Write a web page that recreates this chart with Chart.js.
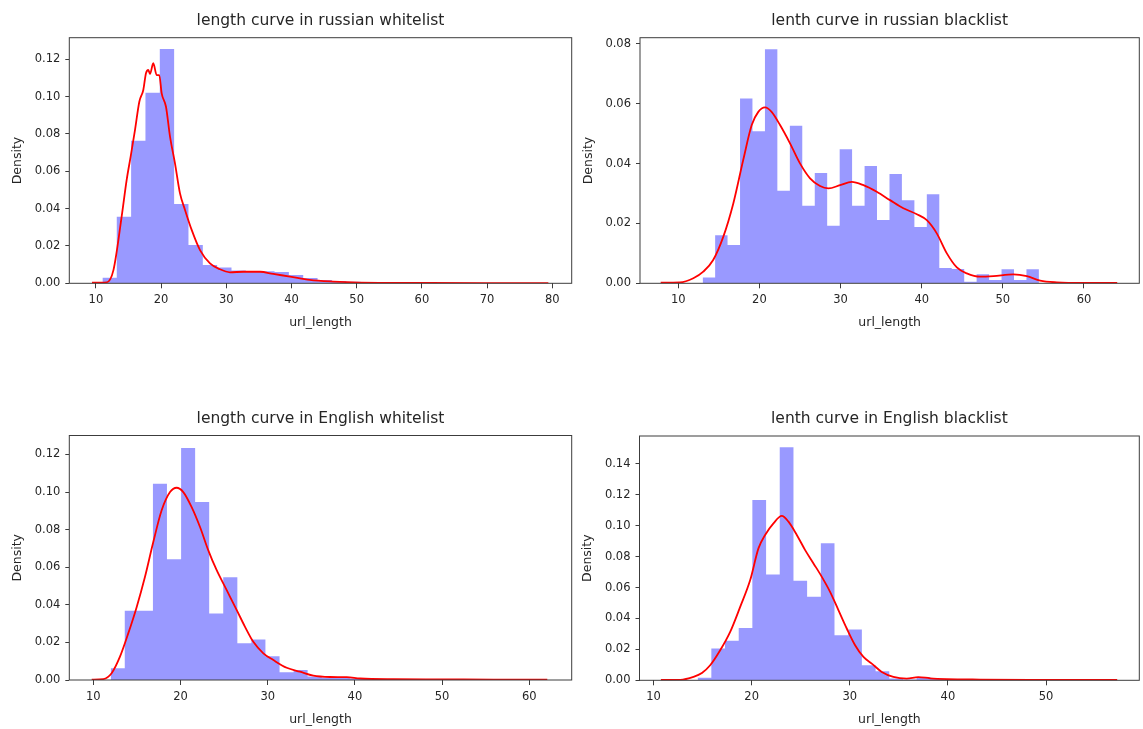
<!DOCTYPE html>
<html><head><meta charset="utf-8">
<script src="https://cdn.jsdelivr.net/npm/chart.js@4.4.1/dist/chart.umd.min.js"></script>
<style>
html,body{margin:0;padding:0;background:#fff;}
body{width:1143px;height:729px;position:relative;overflow:hidden;}
canvas{position:absolute;}
</style></head><body>
<canvas id="c1"></canvas><canvas id="c2"></canvas><canvas id="c3"></canvas><canvas id="c4"></canvas>
<script>
// ---------- data ----------
const titles = ["length curve in russian whitelist","lenth curve in russian blacklist","length curve in English whitelist","lenth curve in English blacklist"];
const xLabel = "url_length";
const yLabel = "Density";

// russian whitelist
const ruWhiteEdges = [11.0,13.2,15.4,17.6,19.8,22.0,24.2,26.4,28.6,30.8,33.0,35.2,37.4,39.6,41.8,44.0,46.2,48.4,50.6,52.8,55.0,57.2,59.4,61.6,63.8,66.0,68.2,70.4,72.6,74.8,77.0,79.2];
const ruWhiteDensity = [0.003,0.0357,0.0764,0.1021,0.1255,0.0425,0.0205,0.0098,0.0084,0.0068,0.0066,0.0064,0.0060,0.0045,0.0028,0.0018,0.0012,0.0008,0.0005,0.0004,0.0003,0.0002,0.0002,0.0001,0.0001,0.0001,0.0001,0.0001,0.0001,0.0,0.0001];
const ruWhiteKdeX = [9.4,11.65,12.7,13.95,14.72,15.33,16.0,16.66,17.27,17.68,18.04,18.3,18.8,19.32,19.72,20.09,20.75,21.37,22.13,22.9,23.67,24.69,25.97,27.5,29.03,30.56,32.6,35.17,37.2,39.77,42.8,46.4,50.5,60,70,79.4];
const ruWhiteKdeY = [0.0003,0.0005,0.0072,0.0357,0.0554,0.0679,0.0822,0.0973,0.1036,0.1126,0.1143,0.1122,0.1179,0.1116,0.1116,0.1018,0.0946,0.0786,0.0643,0.0482,0.0393,0.0286,0.0178,0.0107,0.0075,0.0059,0.0062,0.0062,0.0050,0.0036,0.0018,0.0009,0.0004,0.0002,0.0001,0.0001];

// russian blacklist
const ruBlackEdges = [13.0,14.54,16.07,17.61,19.14,20.68,22.21,23.75,25.28,26.82,28.35,29.89,31.42,32.96,34.49,36.03,37.56,39.1,40.63,42.17,43.7,45.24,46.77,48.31,49.84,51.38,52.91,54.45];
const ruBlackDensity = [0.0019,0.0161,0.0128,0.0618,0.0508,0.0782,0.0309,0.0527,0.0259,0.0369,0.0192,0.0448,0.0259,0.0392,0.0212,0.0365,0.0278,0.0188,0.0298,0.0051,0.0048,0.0005,0.0030,0.0011,0.0047,0.0011,0.0047];
const ruBlackKdeX = [7.83,10.2,11.85,13.08,14.3,15.55,16.78,18.0,19.05,19.86,20.69,21.5,22.54,23.77,25.0,26.24,27.47,28.5,29.94,31.38,32.82,34.46,36.1,37.74,39.4,40.63,41.86,43.1,44.33,45.56,47.2,48.84,51.3,52.96,54.6,56.66,60,64.1];
const ruBlackKdeY = [0.0002,0.0003,0.0017,0.0039,0.0078,0.0156,0.0267,0.0412,0.0529,0.0573,0.0588,0.0573,0.0529,0.0468,0.0401,0.0351,0.0325,0.0317,0.0328,0.0339,0.0328,0.0306,0.0278,0.0251,0.0231,0.0211,0.0167,0.0100,0.0053,0.0033,0.0022,0.0024,0.0030,0.0024,0.0009,0.0003,0.0001,0.0001];

// English whitelist
const enWhiteEdges = [12.0,13.61,15.23,16.84,18.45,20.07,21.68,23.29,24.9,26.52,28.13,29.74,31.36,32.97,34.58,36.2,37.81,39.42,41.03,42.65,44.26,45.87,47.49,49.1,50.71,52.33,53.94,55.55,57.16,58.78,60.39,62.0];
const enWhiteDensity = [0.0062,0.0368,0.0368,0.1044,0.0642,0.1235,0.0947,0.0354,0.0547,0.0195,0.0216,0.0127,0.0041,0.0053,0.0018,0.0012,0.0010,0.0008,0.0006,0.0004,0.0003,0.0003,0.0002,0.0002,0.0001,0.0001,0.0001,0.0001,0.0,0.0001,0.0001];
const enWhiteKdeX = [9.82,11.15,12.1,13.06,14.01,14.98,15.93,16.88,17.84,18.8,19.56,20.32,21.28,22.24,23.19,24.15,25.3,26.45,27.4,28.35,29.5,30.65,32.18,33.7,35.23,37.14,39.06,40.6,44.4,50.1,55.9,62.06];
const enWhiteKdeY = [0.0002,0.0005,0.0036,0.0124,0.0248,0.0389,0.0549,0.0734,0.0903,0.1000,0.1023,0.1000,0.0920,0.0814,0.0690,0.0584,0.0478,0.0372,0.0283,0.0203,0.0142,0.0106,0.0065,0.0044,0.0023,0.0016,0.0015,0.0008,0.0004,0.0003,0.0002,0.0002];

// English blacklist
const enBlackEdges = [14.49,15.89,17.28,18.68,20.07,21.47,22.86,24.26,25.65,27.05,28.44,29.84,31.23,32.63,34.02,35.42,36.81,38.21,39.6,41.0,42.39,43.79,45.18,46.58,47.97,49.37,50.76,52.16,53.55];
const enBlackDensity = [0.0017,0.0205,0.0255,0.0339,0.1166,0.0685,0.1508,0.0644,0.0540,0.0886,0.0292,0.0328,0.0097,0.0058,0.0011,0.0005,0.0021,0.0009,0.0004,0.0004,0.0003,0.0003,0.0002,0.0002,0.0001,0.0001,0.0001,0.0001];
const enBlackKdeX = [10.75,12.72,14.07,14.93,15.77,16.79,17.81,18.83,19.85,20.69,21.37,22.22,23.07,23.75,24.6,25.45,26.3,27.15,27.99,28.84,29.69,30.54,31.39,32.24,33.26,34.44,35.8,36.98,38.18,39.88,43.27,48.36,57.25];
const enBlackKdeY = [0.0002,0.0003,0.0022,0.0047,0.0097,0.0194,0.0313,0.0475,0.0648,0.0853,0.0940,0.1015,0.1063,0.1026,0.0940,0.0842,0.0756,0.0669,0.0572,0.0454,0.0335,0.0227,0.0151,0.0108,0.0054,0.0022,0.0011,0.0021,0.0013,0.0008,0.0005,0.0003,0.0002];

// tick labels
const xTicks1 = [10,20,30,40,50,60,70,80];
const xTicks2 = [10,20,30,40,50,60];
const xTicks3 = [10,20,30,40,50,60];
const xTicks4 = [10,20,30,40,50];
const yTicks1 = [0,0.02,0.04,0.06,0.08,0.10,0.12];
const yTicks2 = [0,0.02,0.04,0.06,0.08];
const yTicks3 = [0,0.02,0.04,0.06,0.08,0.10,0.12];
const yTicks4 = [0,0.02,0.04,0.06,0.08,0.10,0.12,0.14];

// ---------- rendering ----------
const FONT = "'DejaVu Sans', sans-serif";
const TXT = '#262626';
const AX = '#3c3c3c';
const TS = 15.5, LS = 12.5, KS = 11.5;

function zip(xs, ys){ return xs.map((x,i)=>({x:x, y:ys[i]})); }
function histPoints(edges, dens){
  const pts = dens.map((d,i)=>({x:edges[i], y:d}));
  pts.push({x:edges[edges.length-1], y:0});
  return pts;
}
const framePlugin = {
  id:'frame',
  afterDatasetsDraw(chart){
    const {ctx, chartArea:a} = chart;
    ctx.save(); ctx.strokeStyle = AX; ctx.lineWidth = 1;
    ctx.strokeRect(a.left, a.top, a.right-a.left, a.bottom-a.top);
    ctx.restore();
  }
};

function panel(id, box, area, cfg){
  const cv = document.getElementById(id);
  cv.width = box.w; cv.height = box.h;
  cv.style.left = box.x+'px'; cv.style.top = box.y+'px';
  const lhT = TS*1.2, lhL = LS*1.2;
  const yT = area.T - 16.7, yX = area.B + 39.5, xY = area.L - 51.5;
  const titleTop = yT - box.y - lhT/2;
  const titleBottom = area.T - box.y - titleTop - lhT;
  const xH = yX + lhL/2 - area.B;
  new Chart(cv, {
    type:'line',
    data:{ datasets:[
      {data:cfg.kde, borderColor:'#ff0000', borderWidth:1.8, pointRadius:0, fill:false, cubicInterpolationMode:'monotone', order:1},
      {data:cfg.hist, stepped:true, borderColor:'transparent', borderWidth:0, backgroundColor:'rgba(0,0,255,0.4)', fill:'origin', pointRadius:0, order:2}
    ]},
    options:{
      responsive:false, animation:false, devicePixelRatio:1,
      events:[],
      layout:{padding:{left:0, top:0, right:box.x+box.w-area.R, bottom:box.y+box.h-(yX+lhL/2)}},
      plugins:{
        legend:{display:false}, tooltip:{enabled:false},
        title:{display:true, text:cfg.title, fullSize:false, color:TXT,
          font:{family:FONT, size:TS, weight:'normal', lineHeight:1.2},
          padding:{top:titleTop, bottom:titleBottom}}
      },
      scales:{
        x:{type:'linear', position:'bottom', min:cfg.xmin, max:cfg.xmax,
          afterBuildTicks:s=>{ s.ticks = cfg.xt.map(v=>({value:v})); },
          afterFit:s=>{ s.height = xH; },
          ticks:{color:TXT, font:{family:FONT, size:KS}, padding:5, maxRotation:0, autoSkip:false, callback:v=>String(v)},
          grid:{display:true, drawOnChartArea:false, drawTicks:true, tickLength:5, color:AX, tickColor:AX, lineWidth:1},
          border:{display:false},
          title:{display:true, text:xLabel, color:TXT, font:{family:FONT, size:LS}, padding:{top:0, bottom:0}}
        },
        y:{type:'linear', position:'left', min:0, max:cfg.ymax,
          afterBuildTicks:s=>{ s.ticks = cfg.yt.map(v=>({value:v})); },
          afterFit:s=>{ s.width = area.L - box.x; },
          ticks:{color:TXT, font:{family:FONT, size:KS}, padding:5, callback:v=>v.toFixed(2)},
          grid:{display:true, drawOnChartArea:false, drawTicks:true, tickLength:4, color:AX, tickColor:AX, lineWidth:1},
          border:{display:false},
          title:{display:true, text:yLabel, color:TXT, font:{family:FONT, size:LS}, padding:{top:xY - box.x - lhL/2, bottom:0}}
        }
      }
    },
    plugins:[framePlugin]
  });
}

panel('c1', {x:0,y:0,w:575,h:362}, {L:69.3,T:37.7,R:571.7,B:283.3},
  {title:titles[0], hist:histPoints(ruWhiteEdges, ruWhiteDensity), kde:zip(ruWhiteKdeX, ruWhiteKdeY),
   xmin:5.92, xmax:82.98, ymax:0.1316, xt:xTicks1, yt:yTicks1});
panel('c2', {x:575,y:0,w:568,h:362}, {L:640,T:37.7,R:1139.3,B:283.3},
  {title:titles[1], hist:histPoints(ruBlackEdges, ruBlackDensity), kde:zip(ruBlackKdeX, ruBlackKdeY),
   xmin:5.28, xmax:66.82, ymax:0.0821, xt:xTicks2, yt:yTicks2});
panel('c3', {x:0,y:366,w:575,h:363}, {L:69.3,T:435.5,R:571.7,B:680},
  {title:titles[2], hist:histPoints(enWhiteEdges, enWhiteDensity), kde:zip(enWhiteKdeX, enWhiteKdeY),
   xmin:7.25, xmax:64.86, ymax:0.1301, xt:xTicks3, yt:yTicks3});
panel('c4', {x:575,y:366,w:568,h:363}, {L:639.5,T:436,R:1139.3,B:680.3},
  {title:titles[3], hist:histPoints(enBlackEdges, enBlackDensity), kde:zip(enBlackKdeX, enBlackKdeY),
   xmin:8.57, xmax:59.5, ymax:0.158, xt:xTicks4, yt:yTicks4});
</script>
</body></html>
